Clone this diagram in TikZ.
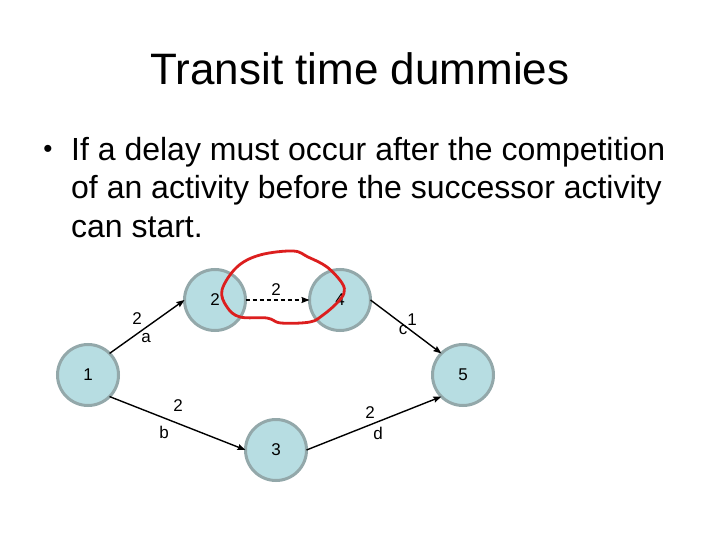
\documentclass[tikz,border=0pt]{standalone}
\usepackage{fontspec}
\setmainfont{Liberation Sans}
\usepackage{xcolor}
\usepackage{tikz}
\usetikzlibrary{arrows.meta,positioning,calc}
\definecolor{cFill}{HTML}{B7DDE2}
\definecolor{cRim}{HTML}{93A8AA}
\definecolor{cInk}{HTML}{000000}
\definecolor{cMark}{HTML}{DC1E1E}
\tikzset{
  ev/.style={circle,draw=cRim,fill=cFill,line width=3pt,minimum size=61pt,inner sep=0pt,outer sep=0pt,font=\fontsize{17}{20}\selectfont,text=cInk},
  arr/.style={-{Stealth[length=8pt,width=6pt,inset=1pt]},line width=1.4pt,color=cInk},
  darr/.style={arr,dash pattern=on 4pt off 3pt},
  lbl/.style={font=\fontsize{17}{20}\selectfont,text=cInk,inner sep=0pt},
  ttl/.style={font=\fontsize{44}{48}\selectfont,text=cInk,inner sep=0pt,anchor=base},
  body/.style={font=\fontsize{32}{38}\selectfont,text=cInk,inner sep=0pt,anchor=base west},
  loop/.style={draw=cMark,line width=2.8pt,line cap=round,line join=round},
}
\begin{document}
\begin{tikzpicture}[x=1pt,y=-1pt]
  \useasboundingbox[fill=white] (0,0) rectangle (720,540);
  % slide text
  \node[ttl] (title) at (360,85) {Transit time dummies};
  \node[body,font=\fontsize{26}{30}\selectfont,anchor=center] (bul) at (48,151) {•};
  \node[body] (ln1) at (71,161) {If a delay must occur after the competition};
  \node[body] (ln2) at (71,199) {of an activity before the successor activity};
  \node[body] (ln3) at (71,237) {can start.};
  % events
  \node[ev] (e1) at (88,375) {1};
  \node[ev] (e2) at (215,300) {2};
  \node[ev] (e4) at (340,300) {4};
  \node[ev] (e3) at (276,450) {3};
  \node[ev] (e5) at (463,375) {5};
  % activities
  \draw[arr] (e1.north east) -- (e2.west);
  \draw[darr] (e2.east) -- (e4.west);
  \draw[arr] (e4.east) -- (e5.north west);
  \draw[arr] (e1.south east) -- (e3.west);
  \draw[arr] (e3.east) -- (e5.south west);
  \node[lbl] (ta) at (137,319) {2};
  \node[lbl] (na) at (146,338) {a};
  \node[lbl] (tx) at (276,290) {2};
  \node[lbl] (tc) at (412,320) {1};
  \node[lbl] (nc) at (403,330) {c};
  \node[lbl] (tb) at (178,406) {2};
  \node[lbl] (nb) at (164,432) {b};
  \node[lbl] (td) at (370,413) {2};
  \node[lbl] (nd) at (378,433) {d};
  % hand drawn ring round the dummy
  \draw[loop] plot[smooth cycle,tension=0.6] coordinates {
    (222,290) (237,267) (260,255) (293,251) (308,257) (327,267)
    (342,283) (344,293) (337,303) (323,315) (310,322) (281,323)
    (267,318) (240,317) (227,307)};
\end{tikzpicture}
\end{document}
